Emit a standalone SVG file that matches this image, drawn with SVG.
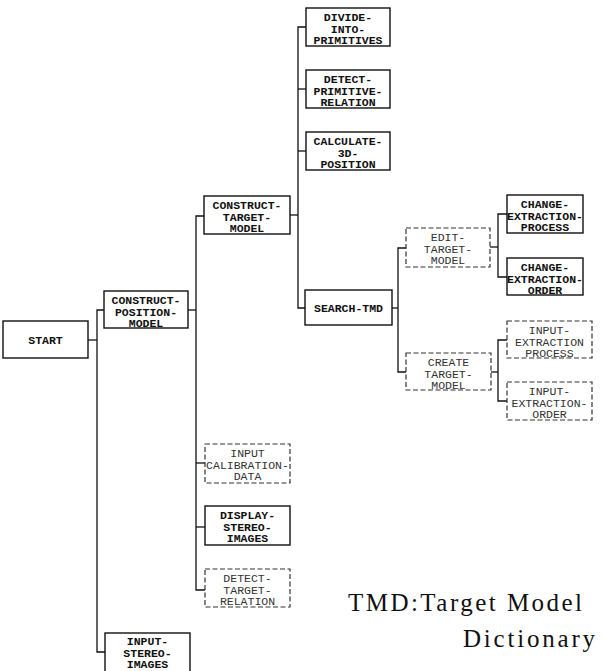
<svg xmlns="http://www.w3.org/2000/svg" width="606" height="671" viewBox="0 0 606 671">
<style>
.box{fill:#fff;stroke:#111;stroke-width:1.4}
.dbox{fill:#fff;stroke:#333;stroke-width:1.2;stroke-dasharray:5 2.5}
.lbl{font-family:"Liberation Mono","DejaVu Sans Mono",monospace;font-size:11.5px;font-weight:bold;text-anchor:middle;fill:#111}
.dl{fill:#333;font-weight:normal}
.conn{fill:none;stroke:#111;stroke-width:1.3}
.note{font-family:"Liberation Serif","DejaVu Serif",serif;font-size:25px;fill:#111}
</style>
<rect width="606" height="671" fill="#fff"/>
<g id="connectors" class="conn">
<path d="M88,340 H97"/>
<path d="M104,310 H97 V652 H105"/>
<path d="M188,310 H196"/>
<path d="M204,216 H196 V590 H205"/>
<path d="M196,463 H205"/>
<path d="M196,527 H205"/>
<path d="M290,215 H298"/>
<path d="M306,27 H298 V308 H305"/>
<path d="M298,89 H306"/>
<path d="M298,151 H306"/>
<path d="M392,308 H398"/>
<path d="M406,248 H398 V372 H406"/>
<path d="M490,247 H498"/>
<path d="M507,214 H498 V277 H507"/>
<path d="M491,372 H498"/>
<path d="M507,340 H498 V401 H507"/>
</g>
<g id="start"><rect class="box" x="3" y="321" width="85" height="37"/><text class="lbl" x="45.5" y="344">START</text></g>
<g id="construct-position-model"><rect class="box" x="104" y="291" width="84" height="37"/><text class="lbl" x="146" y="304">CONSTRUCT-</text><text class="lbl" x="146" y="315.5">POSITION-</text><text class="lbl" x="146" y="327">MODEL</text></g>
<g id="construct-target-model"><rect class="box" x="204" y="196" width="86" height="38"/><text class="lbl" x="247" y="209">CONSTRUCT-</text><text class="lbl" x="247" y="220.5">TARGET-</text><text class="lbl" x="247" y="232">MODEL</text></g>
<g id="divide-into-primitives"><rect class="box" x="306" y="8" width="84" height="38"/><text class="lbl" x="348" y="21">DIVIDE-</text><text class="lbl" x="348" y="32.5">INTO-</text><text class="lbl" x="348" y="44">PRIMITIVES</text></g>
<g id="detect-primitive-relation"><rect class="box" x="306" y="70" width="84" height="38"/><text class="lbl" x="348" y="83">DETECT-</text><text class="lbl" x="348" y="94.5">PRIMITIVE-</text><text class="lbl" x="348" y="106">RELATION</text></g>
<g id="calculate-3d-position"><rect class="box" x="306" y="132" width="84" height="38"/><text class="lbl" x="348" y="145">CALCULATE-</text><text class="lbl" x="348" y="156.5">3D-</text><text class="lbl" x="348" y="168">POSITION</text></g>
<g id="search-tmd"><rect class="box" x="305" y="290" width="87" height="35"/><text class="lbl" x="348.5" y="312">SEARCH-TMD</text></g>
<g id="edit-target-model"><rect class="dbox" x="406" y="228" width="84" height="39"/><text class="lbl dl" x="448" y="241">EDIT-</text><text class="lbl dl" x="448" y="252.5">TARGET-</text><text class="lbl dl" x="448" y="264">MODEL</text></g>
<g id="change-extraction-process"><rect class="box" x="507" y="195" width="76" height="38"/><text class="lbl" x="545" y="208">CHANGE-</text><text class="lbl" x="545" y="219.5">EXTRACTION-</text><text class="lbl" x="545" y="231">PROCESS</text></g>
<g id="change-extraction-order"><rect class="box" x="507" y="258" width="76" height="37"/><text class="lbl" x="545" y="271">CHANGE-</text><text class="lbl" x="545" y="282.5">EXTRACTION-</text><text class="lbl" x="545" y="294">ORDER</text></g>
<g id="create-target-model"><rect class="dbox" x="406" y="353" width="85" height="37"/><text class="lbl dl" x="448.5" y="366">CREATE</text><text class="lbl dl" x="448.5" y="377.5">TARGET-</text><text class="lbl dl" x="448.5" y="389">MODEL</text></g>
<g id="input-extraction-process"><rect class="dbox" x="507" y="321" width="85" height="37"/><text class="lbl dl" x="549.5" y="334">INPUT-</text><text class="lbl dl" x="549.5" y="345.5">EXTRACTION</text><text class="lbl dl" x="549.5" y="357">PROCESS</text></g>
<g id="input-extraction-order"><rect class="dbox" x="507" y="382" width="85" height="38"/><text class="lbl dl" x="549.5" y="395">INPUT-</text><text class="lbl dl" x="549.5" y="406.5">EXTRACTION-</text><text class="lbl dl" x="549.5" y="418">ORDER</text></g>
<g id="input-calibration-data"><rect class="dbox" x="205" y="444" width="85" height="39"/><text class="lbl dl" x="247.5" y="457">INPUT</text><text class="lbl dl" x="247.5" y="468.5">CALIBRATION-</text><text class="lbl dl" x="247.5" y="480">DATA</text></g>
<g id="display-stereo-images"><rect class="box" x="205" y="506" width="85" height="39"/><text class="lbl" x="247.5" y="519">DISPLAY-</text><text class="lbl" x="247.5" y="530.5">STEREO-</text><text class="lbl" x="247.5" y="542">IMAGES</text></g>
<g id="detect-target-relation"><rect class="dbox" x="205" y="569" width="85" height="38"/><text class="lbl dl" x="247.5" y="582">DETECT-</text><text class="lbl dl" x="247.5" y="593.5">TARGET-</text><text class="lbl dl" x="247.5" y="605">RELATION</text></g>
<g id="input-stereo-images"><rect class="box" x="105" y="633" width="85" height="45"/><text class="lbl" x="147.5" y="645">INPUT-</text><text class="lbl" x="147.5" y="656.5">STEREO-</text><text class="lbl" x="147.5" y="668">IMAGES</text></g>
<g id="legend">
<text class="note" x="348" y="611" textLength="234" lengthAdjust="spacing">TMD:Target Model</text>
<text class="note" x="463" y="647" textLength="132" lengthAdjust="spacing">Dictionary</text>
</g>
</svg>
